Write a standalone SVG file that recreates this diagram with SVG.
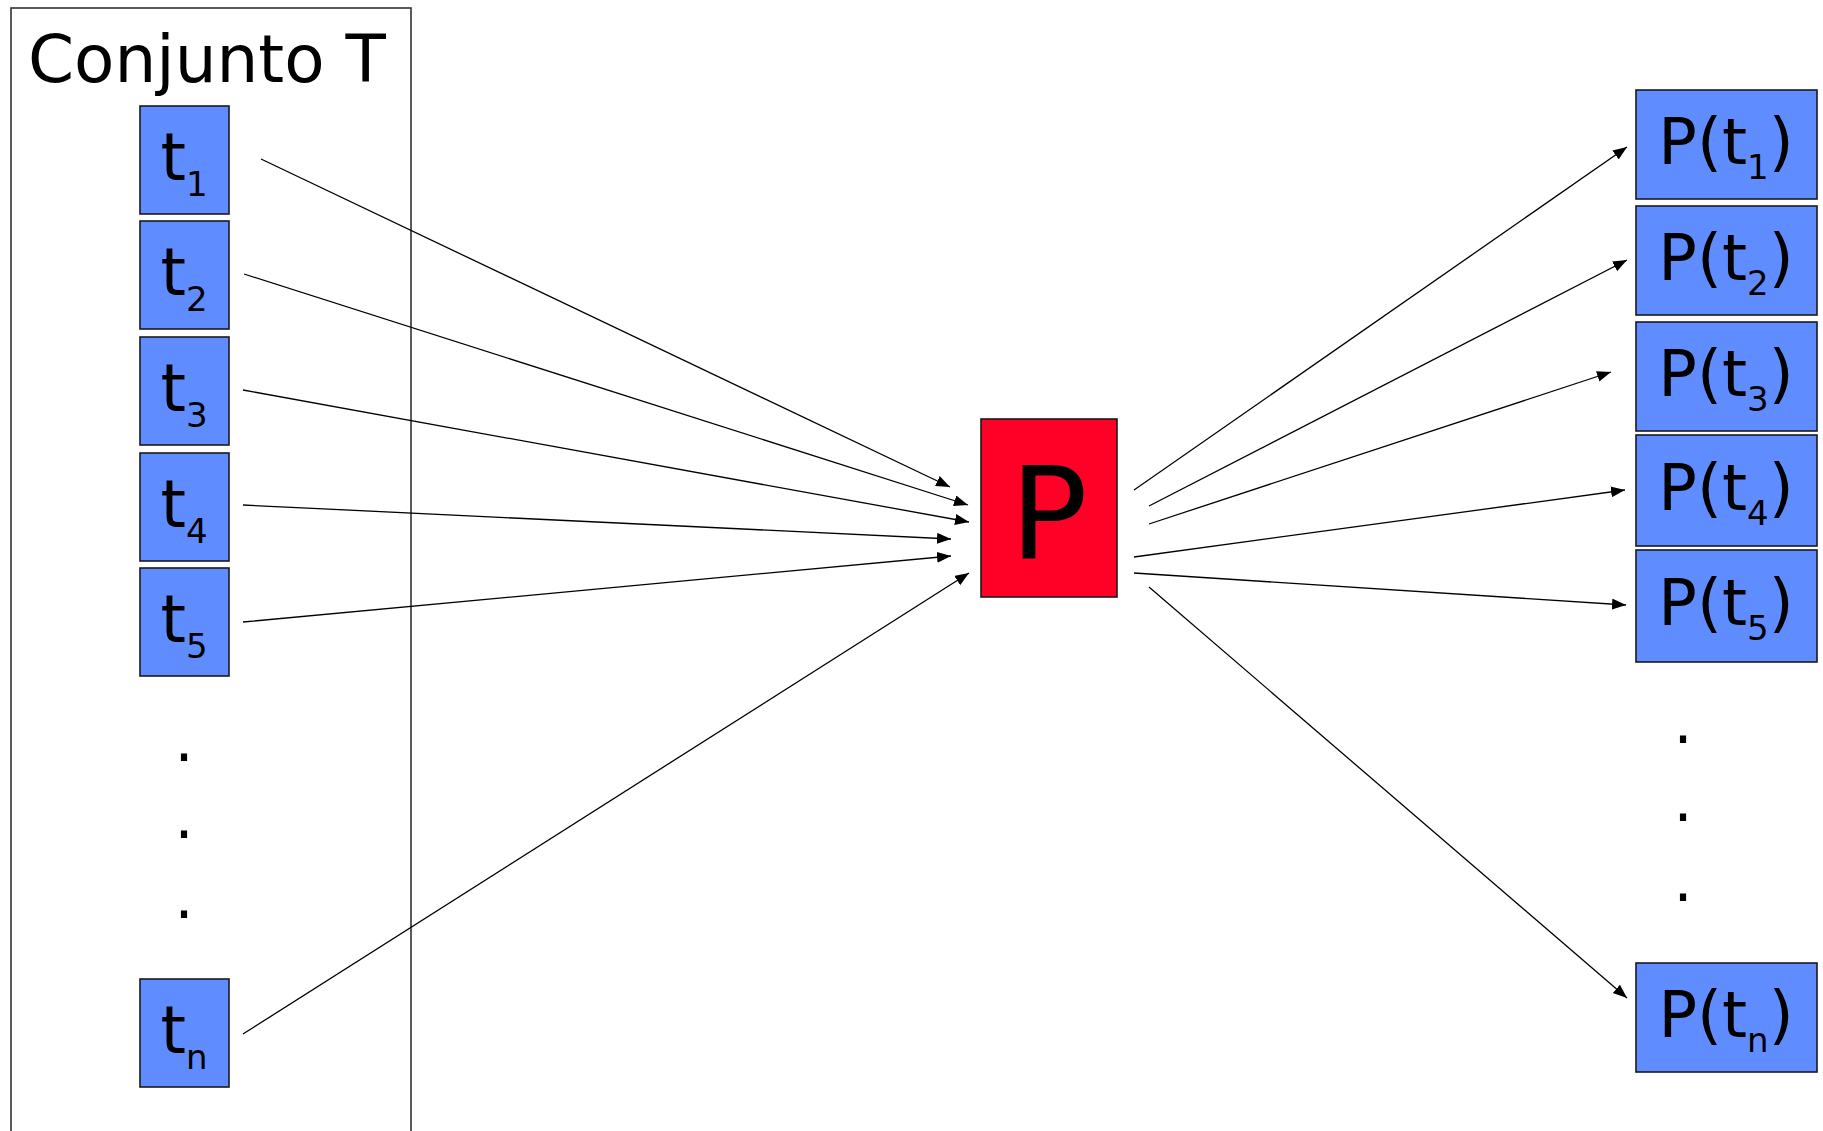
<svg xmlns="http://www.w3.org/2000/svg" width="1823" height="1131" viewBox="0 0 1823 1131">
<style>
.lbl{font-family:"DejaVu Sans","Liberation Sans",sans-serif;fill:#000;text-anchor:middle}
.box{fill:#5f8cff;stroke:#1a1a1a;stroke-width:1.6}
.con{stroke:#000;stroke-width:1.3;fill:none;marker-end:url(#ah)}
.dot{font-family:"DejaVu Sans","Liberation Sans",sans-serif;font-size:60px;text-anchor:middle}
</style>
<defs>
<marker id="ah" markerUnits="userSpaceOnUse" markerWidth="16" markerHeight="12" refX="14" refY="5.5" orient="auto">
<path d="M0,0 L14,5.5 L0,11 z" fill="#000"/>
</marker>
</defs>
<rect x="0" y="0" width="1823" height="1131" fill="#fff"/>
<g id="conjunto">
<rect x="11" y="8" width="400" height="1140" fill="none" stroke="#333" stroke-width="1.6"/>
<text x="28" y="82" font-family="DejaVu Sans, Liberation Sans, sans-serif" font-size="66">Conjunto T</text>
</g>
<g id="t1"><rect class="box" x="140" y="106" width="89" height="108"/><text class="lbl" x="184" y="180" font-size="65">t<tspan font-size="34" dy="16">1</tspan></text></g>
<g id="t2"><rect class="box" x="140" y="221" width="89" height="108"/><text class="lbl" x="184" y="295" font-size="65">t<tspan font-size="34" dy="16">2</tspan></text></g>
<g id="t3"><rect class="box" x="140" y="337" width="89" height="108"/><text class="lbl" x="184" y="411" font-size="65">t<tspan font-size="34" dy="16">3</tspan></text></g>
<g id="t4"><rect class="box" x="140" y="453" width="89" height="108"/><text class="lbl" x="184" y="527" font-size="65">t<tspan font-size="34" dy="16">4</tspan></text></g>
<g id="t5"><rect class="box" x="140" y="568" width="89" height="108"/><text class="lbl" x="184" y="642" font-size="65">t<tspan font-size="34" dy="16">5</tspan></text></g>
<g id="tdots"><text class="dot" x="184" y="761">.</text><text class="dot" x="184" y="838">.</text><text class="dot" x="184" y="918">.</text></g>
<g id="tn"><rect class="box" x="140" y="979" width="89" height="108"/><text class="lbl" x="184" y="1053" font-size="65">t<tspan font-size="34" dy="16">n</tspan></text></g>
<g id="P"><rect x="981" y="419" width="136" height="178" fill="#ff0027" stroke="#1a1a1a" stroke-width="1.6"/><text class="lbl" x="1049" y="559" font-size="129">P</text></g>
<g id="pt1"><rect class="box" x="1636" y="90" width="181" height="109"/><text class="lbl" x="1726" y="164" font-size="64">P(t<tspan font-size="34" dy="15">1</tspan><tspan dy="-15">)</tspan></text></g>
<g id="pt2"><rect class="box" x="1636" y="206" width="181" height="109"/><text class="lbl" x="1726" y="280" font-size="64">P(t<tspan font-size="34" dy="15">2</tspan><tspan dy="-15">)</tspan></text></g>
<g id="pt3"><rect class="box" x="1636" y="322" width="181" height="109"/><text class="lbl" x="1726" y="396" font-size="64">P(t<tspan font-size="34" dy="15">3</tspan><tspan dy="-15">)</tspan></text></g>
<g id="pt4"><rect class="box" x="1636" y="435" width="181" height="111"/><text class="lbl" x="1726" y="510" font-size="64">P(t<tspan font-size="34" dy="15">4</tspan><tspan dy="-15">)</tspan></text></g>
<g id="pt5"><rect class="box" x="1636" y="550" width="181" height="112"/><text class="lbl" x="1726" y="625" font-size="64">P(t<tspan font-size="34" dy="15">5</tspan><tspan dy="-15">)</tspan></text></g>
<g id="pdots"><text class="dot" x="1683" y="743">.</text><text class="dot" x="1683" y="821">.</text><text class="dot" x="1683" y="901">.</text></g>
<g id="ptn"><rect class="box" x="1636" y="963" width="181" height="109"/><text class="lbl" x="1726" y="1037" font-size="64">P(t<tspan font-size="34" dy="15">n</tspan><tspan dy="-15">)</tspan></text></g>
<g id="connectors">
<line class="con" x1="261" y1="159" x2="950" y2="487"/>
<line class="con" x1="244" y1="274" x2="968" y2="505"/>
<line class="con" x1="243" y1="390" x2="969" y2="522"/>
<line class="con" x1="243" y1="505" x2="951" y2="539"/>
<line class="con" x1="243" y1="622" x2="951" y2="556"/>
<line class="con" x1="243" y1="1034" x2="969" y2="573"/>
<line class="con" x1="1134" y1="490" x2="1627" y2="147"/>
<line class="con" x1="1149" y1="506" x2="1627" y2="260"/>
<line class="con" x1="1149" y1="524" x2="1611" y2="372"/>
<line class="con" x1="1134" y1="557" x2="1625" y2="490"/>
<line class="con" x1="1134" y1="573" x2="1626" y2="605"/>
<line class="con" x1="1149" y1="587" x2="1627" y2="998"/>
</g>
</svg>
